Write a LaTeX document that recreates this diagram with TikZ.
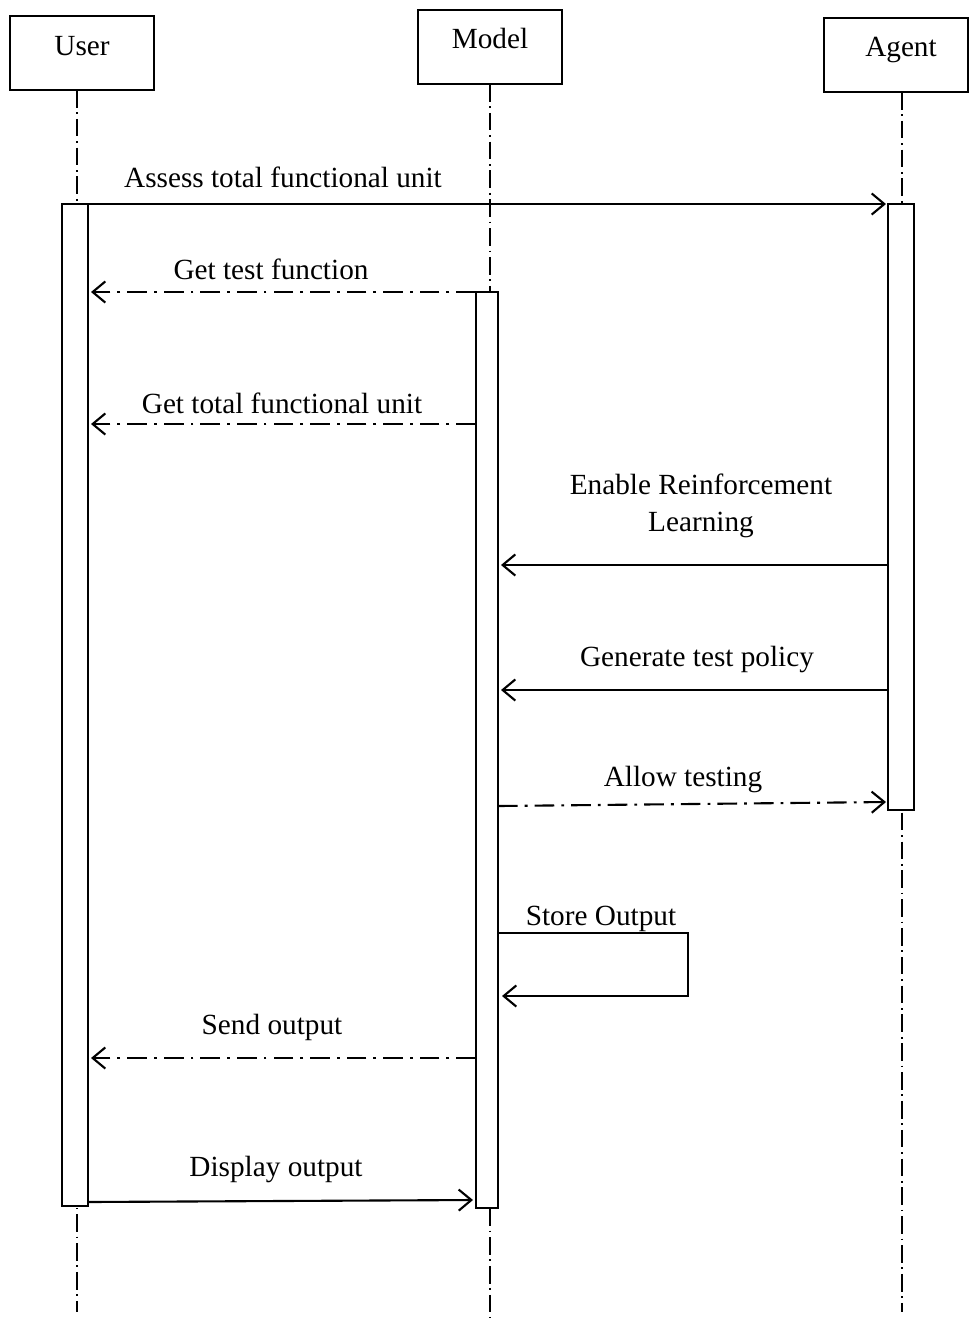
\documentclass[tikz,border=0pt]{standalone}
\usepackage{fontspec}
\setmainfont{Liberation Serif}
\usetikzlibrary{arrows.meta}

\begin{document}
\begin{tikzpicture}[x=0.025cm, y=-0.025cm, font=\fontsize{20.8}{26}\selectfont]
    \useasboundingbox (0,0) rectangle (972,1318);

    % Kiểu nét dùng chung
    \tikzset{
        c_box/.style={draw, line width=1.5pt, minimum width=3.6cm, minimum height=1.85cm, inner sep=0pt},
        c_life/.style={line width=1pt, dash pattern=on 12.5pt off 3.4pt on 1.2pt off 3.4pt},
        c_bar/.style={draw, fill=white, line width=1.5pt},
        c_call/.style={line width=1.5pt, -{Straight Barb[length=9pt, width=15pt]}},
        c_reply/.style={c_call, dash pattern=on 14pt off 5pt on 2pt off 5pt},
        c_text/.style={anchor=base, inner sep=0pt}
    }

    % Các đối tượng
    \node[c_box] (user) at (82,53) {};
    \node[c_box] (model) at (490,47) {};
    \node[c_box] (agent) at (896,55) {};
    \node[c_text] (user_lbl) at (82,55) {User};
    \node[c_text] (model_lbl) at (490,48) {Model};
    \node[c_text] (agent_lbl) at (901,56) {Agent};

    % Đường sống
    \coordinate (u_top) at (77,90);
    \coordinate (u_end) at (77,1312);
    \coordinate (m_top) at (490,84);
    \coordinate (m_end) at (490,1318);
    \coordinate (a_top) at (902,92);
    \coordinate (a_end) at (902,1312);
    \draw[c_life] (u_top) -- (u_end);
    \draw[c_life] (m_top) -- (m_end);
    \draw[c_life] (a_top) -- (a_end);

    % Thanh kích hoạt
    \coordinate (ub_tl) at (62,204);
    \coordinate (ub_br) at (88,1206);
    \coordinate (mb_tl) at (476,292);
    \coordinate (mb_br) at (498,1208);
    \coordinate (ab_tl) at (888,204);
    \coordinate (ab_br) at (914,810);
    \draw[c_bar] (ub_tl) rectangle (ub_br);
    \draw[c_bar] (mb_tl) rectangle (mb_br);
    \draw[c_bar] (ab_tl) rectangle (ab_br);

    % Điểm đầu và cuối các thông điệp
    \coordinate (assess_s) at (88,204);
    \coordinate (assess_e) at (886,204);
    \coordinate (gtf_s) at (476,292);
    \coordinate (gtf_e) at (91,292);
    \coordinate (gtu_s) at (476,424);
    \coordinate (gtu_e) at (91,424);
    \coordinate (erl_s) at (888,565);
    \coordinate (erl_e) at (501,565);
    \coordinate (gtp_s) at (888,690);
    \coordinate (gtp_e) at (501,690);
    \coordinate (allow_s) at (498,806);
    \coordinate (allow_e) at (886,802);
    \coordinate (store_s) at (498,933);
    \coordinate (store_a) at (688,933);
    \coordinate (store_b) at (688,996);
    \coordinate (store_e) at (502,996);
    \coordinate (send_s) at (476,1058);
    \coordinate (send_e) at (91,1058);
    \coordinate (disp_s) at (88,1202);
    \coordinate (disp_e) at (473,1200);

    % Thông điệp
    \draw[c_call] (assess_s) -- (assess_e);
    \draw[c_reply] (gtf_s) -- (gtf_e);
    \draw[c_reply] (gtu_s) -- (gtu_e);
    \draw[c_call] (erl_s) -- (erl_e);
    \draw[c_call] (gtp_s) -- (gtp_e);
    \draw[c_reply] (allow_s) -- (allow_e);
    \draw[c_call] (store_s) -- (store_a) -- (store_b) -- (store_e);
    \draw[c_reply] (send_s) -- (send_e);
    \draw[c_call] (disp_s) -- (disp_e);

    % Nhãn thông điệp
    \node[c_text] (assess_lbl) at (283,187) {Assess total functional unit};
    \node[c_text] (gtf_lbl) at (271,279) {Get test function};
    \node[c_text] (gtu_lbl) at (282,413) {Get total functional unit};
    \node[c_text] (erl_lbl1) at (701,494) {Enable Reinforcement};
    \node[c_text] (erl_lbl2) at (701,531) {Learning};
    \node[c_text] (gtp_lbl) at (697,666) {Generate test policy};
    \node[c_text] (allow_lbl) at (683,786) {Allow testing};
    \node[c_text] (store_lbl) at (601,925) {Store Output};
    \node[c_text] (send_lbl) at (272,1034) {Send output};
    \node[c_text] (disp_lbl) at (276,1176) {Display output};
\end{tikzpicture}
\end{document}
